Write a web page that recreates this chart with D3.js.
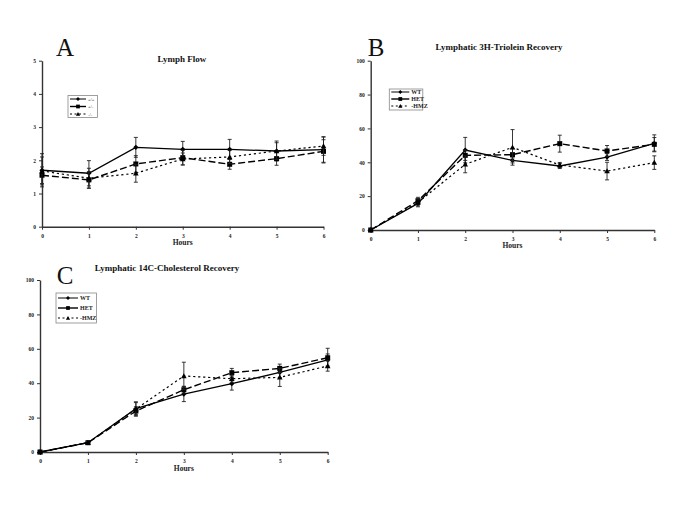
<!DOCTYPE html>
<html><head><meta charset="utf-8">
<script src="https://cdn.jsdelivr.net/npm/d3@7"></script>
<style>body{margin:0;background:#fff}svg{display:block}</style>
</head><body>
<script>
const hours = [0,1,2,3,4,5,6];
// Panel A: Lymph Flow
const flowWT  = [1.70,1.61,2.39,2.33,2.33,2.28,2.32];
const flowHET = [1.55,1.41,1.89,2.08,1.88,2.05,2.27];
const flowHMZ = [1.68,1.46,1.61,2.04,2.10,2.28,2.43];
const flowWTerr  = [0.50,0.38,0.30,0.24,0.30,0.30,0.38];
const flowHETerr = [0.25,0.25,0.25,0.22,0.15,0.20,0.35];
const flowHMZerr = [0.42,0.30,0.27,0.18,0.20,0.25,0.28];
// Panel B: Lymphatic 3H-Triolein Recovery
const triWT  = [0,15.7,47.2,41.1,37.8,43.1,51.2];
const triHET = [0,17.3,44.1,44.5,51.0,46.7,50.6];
const triHMZ = [0,16.3,38.8,48.8,38.4,34.8,39.8];
const triWTerr  = [0,2.0,7.5,1.5,1.5,2.0,5.0];
const triHETerr = [0,2.0,3.0,3.5,5.0,3.2,4.0];
const triHMZerr = [0,2.0,5.0,10.5,1.5,5.2,4.0];
// Panel C: Lymphatic 14C-Cholesterol Recovery
const cholWT  = [0,5.4,25.2,33.7,39.7,46.3,53.5];
const cholHET = [0,5.4,23.8,36.2,46.1,48.6,54.8];
const cholHMZ = [0,5.4,25.0,44.2,42.6,43.4,50.0];
const cholWTerr  = [0,0.6,3.5,4.4,3.7,3.0,3.5];
const cholHETerr = [0,0.6,2.5,2.0,2.5,2.5,5.5];
const cholHMZerr = [0,0.6,4.2,8.0,2.0,5.3,3.0];

const labelsA = ["+/+","+/-","-/-"];
const labelsBC = ["WT","HET","HMZ"];

const W = 685, H = 513;
const svg = d3.select("body").append("svg").attr("width",W).attr("height",H);
const serif = "'Liberation Serif','Times New Roman',serif";

const styles = [
  {dash:null, marker:"diamond", size:2.6, width:1.3},
  {dash:"7,3", marker:"square", size:5, width:1.4},
  {dash:"2.2,2.8", marker:"triangle", size:2.8, width:1.2}
];

function marker(g, type, x, y, s){
  if(type==="square"){
    g.append("rect").attr("x",x-s/2).attr("y",y-s/2).attr("width",s).attr("height",s).attr("fill","#000");
  } else if(type==="diamond"){
    g.append("path").attr("d",`M${x},${y-s}L${x+s},${y}L${x},${y+s}L${x-s},${y}Z`).attr("fill","#000");
  } else {
    g.append("path").attr("d",`M${x},${y-s}L${x+s},${y+s*0.8}L${x-s},${y+s*0.8}Z`).attr("fill","#000");
  }
}

function panel(cfg){
  const x = d3.scaleLinear().domain([0,6]).range([cfg.x0,cfg.x1]);
  const y = d3.scaleLinear().domain([0,cfg.ymax]).range([cfg.y0,cfg.y1]);
  const g = svg.append("g");
  const xa = g.append("g").attr("transform",`translate(0,${cfg.y0})`)
    .call(d3.axisBottom(x).tickValues(hours).tickFormat(d3.format("d")).tickSize(3).tickSizeOuter(0));
  const ya = g.append("g").attr("transform",`translate(${cfg.x0},0)`)
    .call(d3.axisLeft(y).tickValues(cfg.yticks).tickFormat(d3.format("d")).tickSize(3).tickSizeOuter(0));
  [xa,ya].forEach(a=>{
    a.select(".domain").attr("stroke","#333").attr("stroke-width",1.4);
    a.selectAll(".tick line").attr("stroke","#333");
    a.selectAll("text").attr("font-family",serif).attr("font-size",5.5).attr("font-weight","bold").attr("fill","#222");
  });
  xa.selectAll("text").attr("dy","0.9em");
  g.append("text").attr("x",(cfg.x0+cfg.x1)/2).attr("y",cfg.hoursY).attr("text-anchor","middle")
    .attr("font-family",serif).attr("font-weight","bold").attr("font-size",7.5).attr("fill","#222").text("Hours");
  g.append("text").attr("x",cfg.titleX).attr("y",cfg.titleY).attr("text-anchor","middle")
    .attr("font-family",serif).attr("font-weight","bold").attr("font-size",cfg.titleSize).attr("fill","#111").text(cfg.title);
  g.append("text").attr("x",cfg.letterX).attr("y",cfg.letterY).attr("text-anchor","middle")
    .attr("font-family",serif).attr("font-size",25).attr("fill","#111").text(cfg.letter);

  cfg.series.forEach((s,i)=>{
    const st = styles[i];
    s.vals.forEach((v,j)=>{
      const e = s.err[j]; if(!e) return;
      const cx = x(hours[j]);
      g.append("line").attr("x1",cx).attr("x2",cx).attr("y1",y(v-e)).attr("y2",y(v+e)).attr("stroke","#222").attr("stroke-width",0.9);
      [v-e,v+e].forEach(t=>g.append("line").attr("x1",cx-2).attr("x2",cx+2).attr("y1",y(t)).attr("y2",y(t)).attr("stroke","#222").attr("stroke-width",0.9));
    });
    const line = d3.line().x((d,j)=>x(hours[j])).y(d=>y(d));
    g.append("path").attr("d",line(s.vals)).attr("fill","none").attr("stroke","#000")
      .attr("stroke-width",st.width).attr("stroke-dasharray",st.dash);
    s.vals.forEach((v,j)=>marker(g,st.marker,x(hours[j]),y(v),st.size));
  });

  const L = cfg.legend;
  g.append("rect").attr("x",L.x).attr("y",L.y).attr("width",L.w).attr("height",L.h)
    .attr("fill","#fff").attr("stroke","#888").attr("stroke-width",0.8);
  cfg.labels.forEach((lab,i)=>{
    const st = styles[i];
    const ly = L.y + L.pad + i*L.step;
    g.append("line").attr("x1",L.x+2).attr("x2",L.x+2+L.len).attr("y1",ly).attr("y2",ly)
      .attr("stroke","#000").attr("stroke-width",i===1?1.4:1).attr("stroke-dasharray",i===2?"2,2.5":null);
    marker(g,st.marker,L.x+2+L.len/2,ly,st.size*L.ms);
    g.append("text").attr("x",L.x+4+L.len).attr("y",ly).attr("dy","0.35em")
      .attr("font-family",serif).attr("font-weight","bold").attr("font-size",L.fs).attr("fill",L.col).text((i===2&&L.dashlab?"-":"")+lab);
  });
}

panel({x0:42,x1:323.5,y0:226.7,y1:60.7,ymax:5,yticks:[0,1,2,3,4,5],
  hoursY:245,title:"Lymph Flow",titleX:182,titleY:62,titleSize:9,letter:"A",letterX:65,letterY:56,
  labels:labelsA,
  series:[{vals:flowWT,err:flowWTerr},{vals:flowHET,err:flowHETerr},{vals:flowHMZ,err:flowHMZerr}],
  legend:{x:68,y:95.5,w:29.5,h:22,pad:3.5,step:7.5,len:16,ms:0.75,fs:4.5,col:"#777",dashlab:false}});

panel({x0:370.7,x1:654.3,y0:230,y1:60.7,ymax:100,yticks:[0,20,40,60,80,100],
  hoursY:248,title:"Lymphatic 3H-Triolein Recovery",titleX:499,titleY:50,titleSize:9,letter:"B",letterX:376,letterY:56,
  labels:labelsBC,
  series:[{vals:triWT,err:triWTerr},{vals:triHET,err:triHETerr},{vals:triHMZ,err:triHMZerr}],
  legend:{x:389.3,y:89,w:33.5,h:21,pad:3,step:7,len:18,ms:0.75,fs:6,col:"#222",dashlab:true}});

panel({x0:40,x1:327.7,y0:452,y1:280,ymax:100,yticks:[0,20,40,60,80,100],
  hoursY:471,title:"Lymphatic 14C-Cholesterol Recovery",titleX:167,titleY:271,titleSize:9,letter:"C",letterX:65,letterY:284,
  labels:labelsBC,
  series:[{vals:cholWT,err:cholWTerr},{vals:cholHET,err:cholHETerr},{vals:cholHMZ,err:cholHMZerr}],
  legend:{x:56,y:293,w:40.5,h:30,pad:5,step:10,len:20,ms:0.75,fs:6,col:"#222",dashlab:true}});
</script>
</body></html>
